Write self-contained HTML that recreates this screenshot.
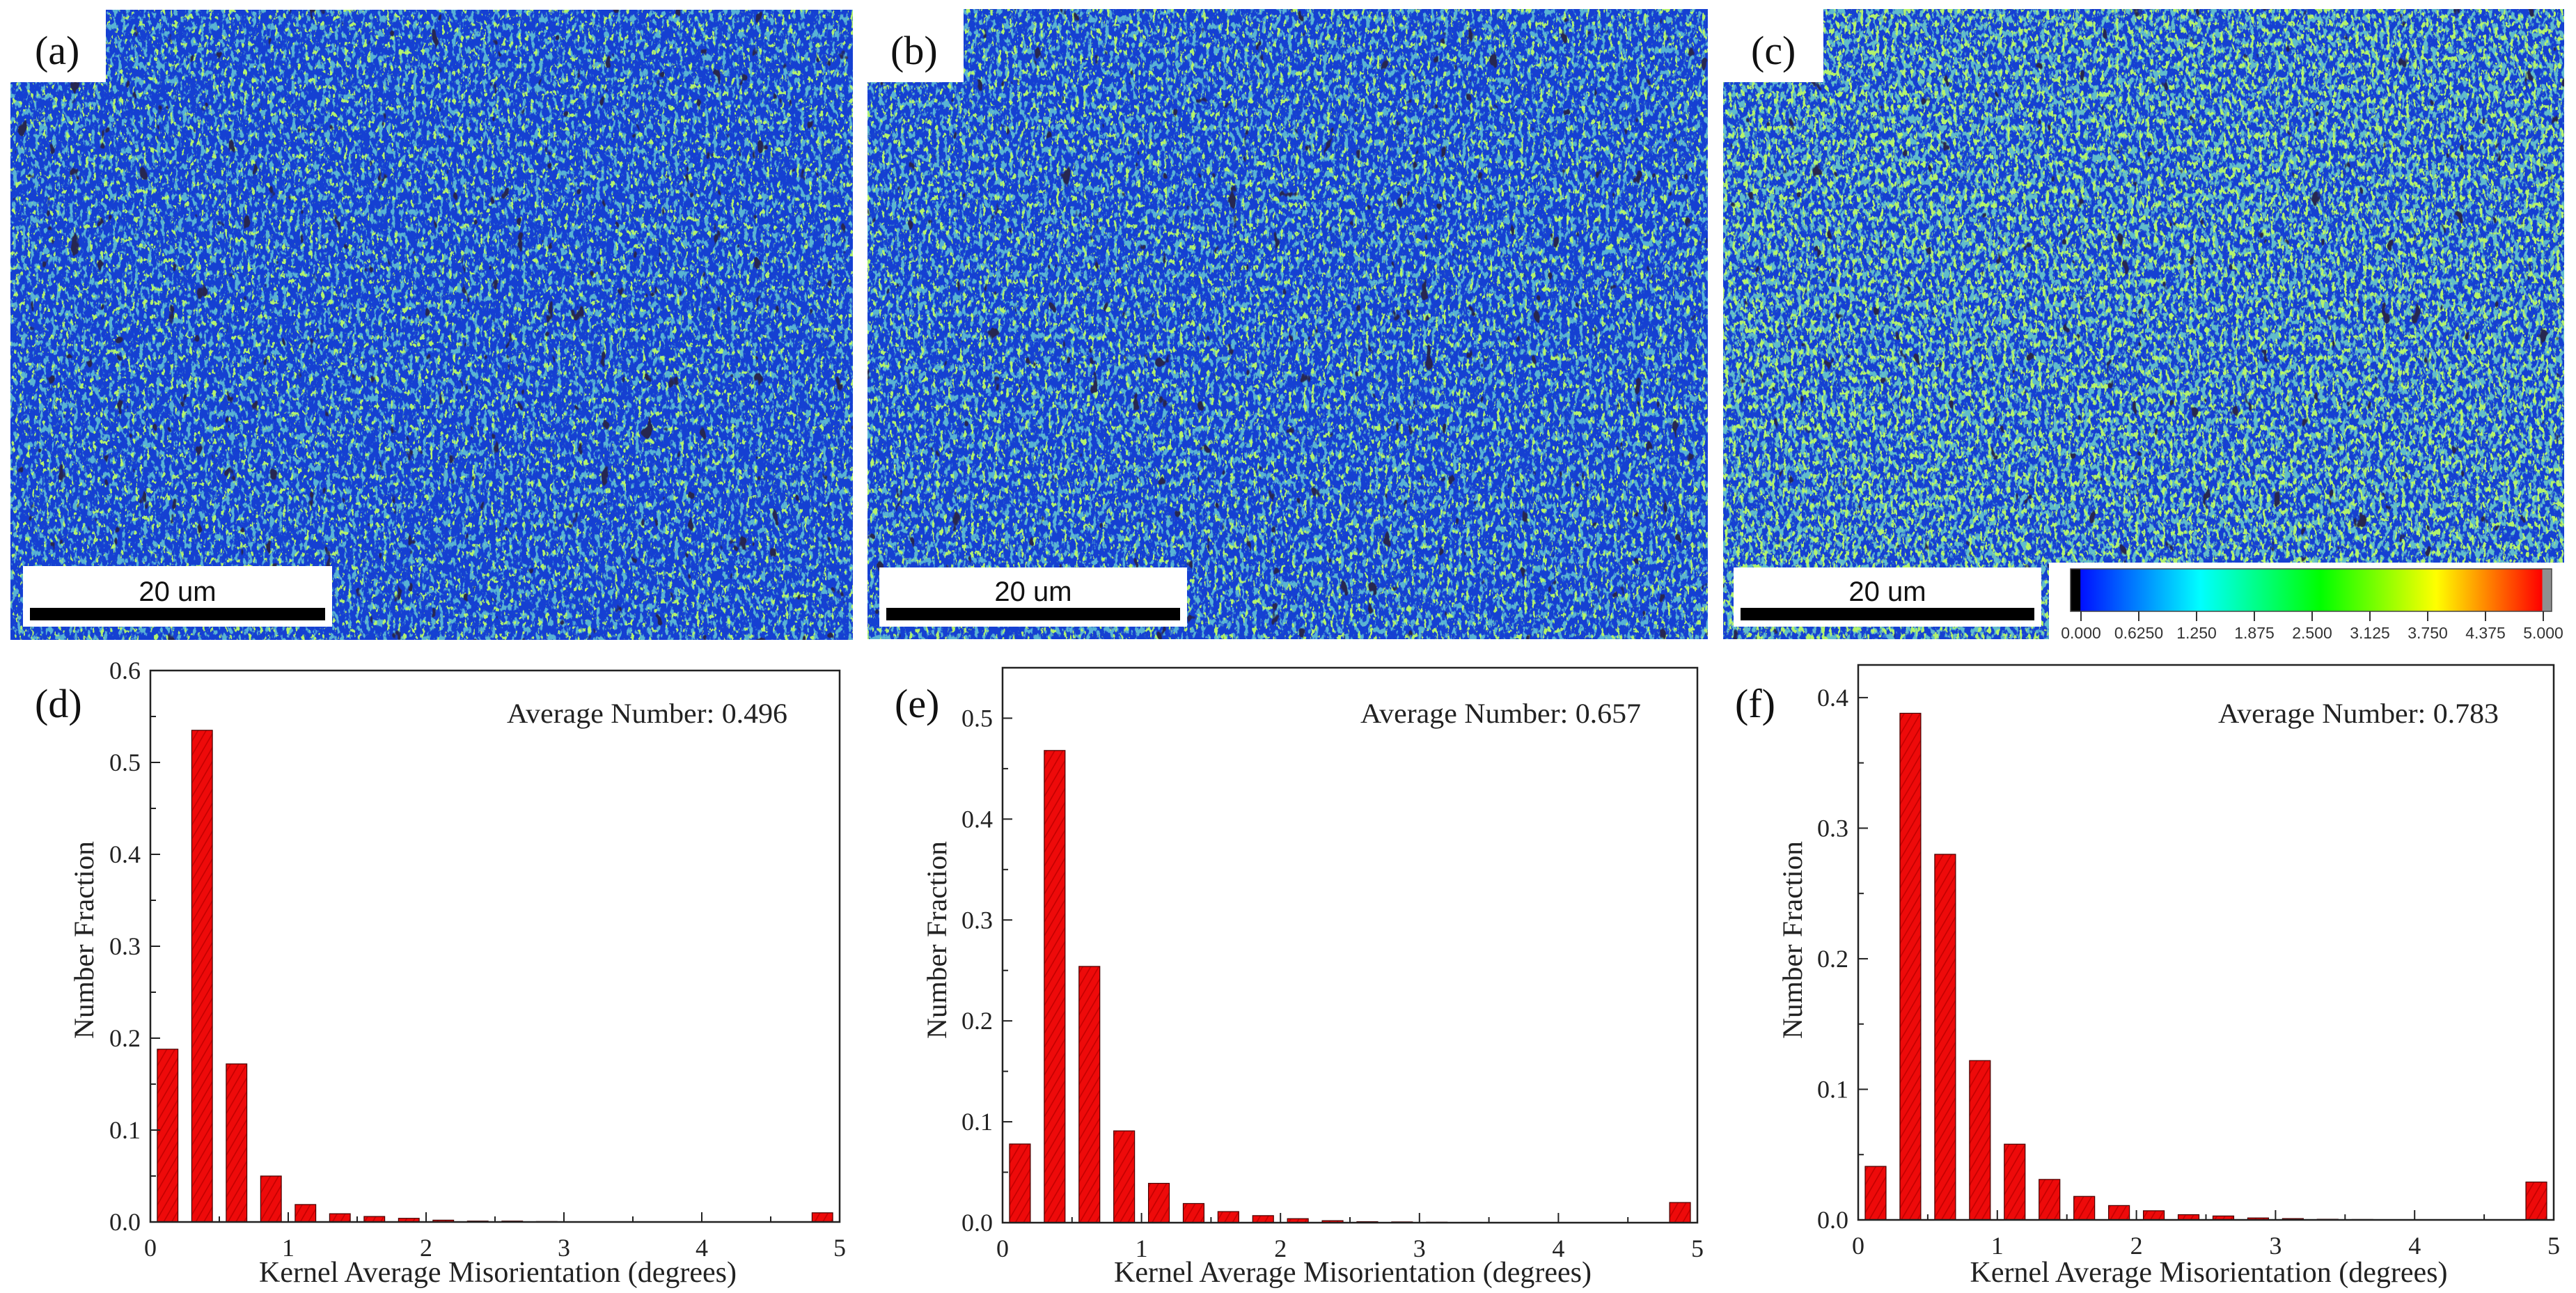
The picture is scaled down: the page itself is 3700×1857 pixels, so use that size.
<!DOCTYPE html>
<html><head><meta charset="utf-8"><style>
html,body{margin:0;padding:0;background:#fff;}
svg{display:block;}
</style></head>
<body>
<svg id="fig" width="3700" height="1857" viewBox="0 0 3700 1857" xmlns="http://www.w3.org/2000/svg">
<defs>
  <pattern id="hatch" patternUnits="userSpaceOnUse" width="10" height="10" patternTransform="rotate(30)">
    <rect width="10" height="10" fill="#ee0a0a"/>
    <line x1="1" y1="0" x2="1" y2="10" stroke="#c00000" stroke-width="1.5"/>
  </pattern>
  <linearGradient id="cbar" x1="0" x2="1" y1="0" y2="0">
    <stop offset="0" stop-color="#000"/><stop offset="0.02" stop-color="#000"/>
    <stop offset="0.021" stop-color="#0010ff"/>
    <stop offset="0.27" stop-color="#00ffff"/>
    <stop offset="0.52" stop-color="#00ff00"/>
    <stop offset="0.76" stop-color="#ffff00"/>
    <stop offset="0.98" stop-color="#ff0000"/>
    <stop offset="0.981" stop-color="#909090"/><stop offset="1" stop-color="#909090"/>
  </linearGradient>
  <filter id="tealA" x="0" y="0" width="1" height="1"><feTurbulence type="fractalNoise" baseFrequency="0.16 0.09" numOctaves="3" seed="3"/><feColorMatrix values="0 0 0 0 0.1  0 0 0 0 0.45  0 0 0 0 0.65  10 0 0 0 -5.4"/></filter>
  <filter id="greenA" x="0" y="0" width="1" height="1"><feTurbulence type="fractalNoise" baseFrequency="0.18 0.1" numOctaves="3" seed="11"/><feColorMatrix values="0 0 0 0 0.45  0 0 0 0 0.9  0 0 0 0 0.15  16 0 0 0 -10.2"/></filter>
  <filter id="blackA" x="0" y="0" width="1" height="1"><feTurbulence type="fractalNoise" baseFrequency="0.05 0.03" numOctaves="3" seed="41"/><feColorMatrix values="0 0 0 0 0.02  0 0 0 0 0.02  0 0 0 0 0.08  20 0 0 0 -14.9"/></filter>
  <filter id="tealB" x="0" y="0" width="1" height="1"><feTurbulence type="fractalNoise" baseFrequency="0.16 0.09" numOctaves="3" seed="5"/><feColorMatrix values="0 0 0 0 0.1  0 0 0 0 0.45  0 0 0 0 0.65  10 0 0 0 -5.3"/></filter>
  <filter id="greenB" x="0" y="0" width="1" height="1"><feTurbulence type="fractalNoise" baseFrequency="0.18 0.1" numOctaves="3" seed="17"/><feColorMatrix values="0 0 0 0 0.45  0 0 0 0 0.9  0 0 0 0 0.15  16 0 0 0 -9.9"/></filter>
  <filter id="blackB" x="0" y="0" width="1" height="1"><feTurbulence type="fractalNoise" baseFrequency="0.05 0.03" numOctaves="3" seed="43"/><feColorMatrix values="0 0 0 0 0.02  0 0 0 0 0.02  0 0 0 0 0.08  20 0 0 0 -14.9"/></filter>
  <filter id="tealC" x="0" y="0" width="1" height="1"><feTurbulence type="fractalNoise" baseFrequency="0.16 0.09" numOctaves="3" seed="7"/><feColorMatrix values="0 0 0 0 0.12  0 0 0 0 0.5  0 0 0 0 0.6  10 0 0 0 -5.0"/></filter>
  <filter id="greenC" x="0" y="0" width="1" height="1"><feTurbulence type="fractalNoise" baseFrequency="0.18 0.1" numOctaves="3" seed="23"/><feColorMatrix values="0 0 0 0 0.45  0 0 0 0 0.9  0 0 0 0 0.15  16 0 0 0 -9.4"/></filter>
  <filter id="blackC" x="0" y="0" width="1" height="1"><feTurbulence type="fractalNoise" baseFrequency="0.05 0.03" numOctaves="3" seed="47"/><feColorMatrix values="0 0 0 0 0.02  0 0 0 0 0.02  0 0 0 0 0.08  20 0 0 0 -15.0"/></filter>
</defs>
</svg>
<script>
// ---- chart data ----
const binCenters = [0.125,0.375,0.625,0.875,1.125,1.375,1.625,1.875,2.125,2.375,2.625,2.875,3.125,3.375,3.625,3.875,4.125,4.375,4.625,4.875];
const fracD = [0.188,0.535,0.172,0.050,0.019,0.009,0.006,0.004,0.002,0.001,0.001,0.0005,0,0,0,0,0,0,0,0.010];
const fracE = [0.078,0.468,0.254,0.091,0.039,0.019,0.011,0.007,0.004,0.002,0.001,0.0008,0.0005,0.0003,0,0,0,0,0,0.020];
const fracF = [0.041,0.388,0.280,0.122,0.058,0.031,0.018,0.011,0.007,0.004,0.003,0.0015,0.001,0.0005,0.0003,0,0,0,0,0.029];
const xTicks = [0,1,2,3,4,5];
const yTicksD = [0,0.1,0.2,0.3,0.4,0.5,0.6];
const yTicksE = [0,0.1,0.2,0.3,0.4,0.5];
const yTicksF = [0,0.1,0.2,0.3,0.4];
const avgD = "0.496", avgE = "0.657", avgF = "0.783";
const cbarLabels = ["0.000","0.6250","1.250","1.875","2.500","3.125","3.750","4.375","5.000"];

const NS = "http://www.w3.org/2000/svg";
const svg = document.getElementById('fig');
function mk(tag, attrs, parent){
  const e = document.createElementNS(NS, tag);
  for (const k in attrs) e.setAttribute(k, attrs[k]);
  (parent||svg).appendChild(e);
  return e;
}
const SERIF = '"Liberation Serif", "Times New Roman", serif';
const SANS = '"Liberation Sans", Arial, sans-serif';

// ---- KAM maps ----
const maps = [
  {id:'a', x:15, y:14, w:1210, h:905, lb:[0,0,152,118], lx:50, sb:[33,813,444,87], teal:'tealA', green:'greenA', black:'blackA'},
  {id:'b', x:1246, y:13, w:1207, h:905, lb:[1246,13,138,105], lx:1279, sb:[1263,815,442,85], teal:'tealB', green:'greenB', black:'blackB'},
  {id:'c', x:2475, y:13, w:1208, h:905, lb:[2475,13,144,105], lx:2515, sb:[2490,815,442,85], teal:'tealC', green:'greenC', black:'blackC'}
];
maps.forEach(m => {
  const g = mk('g', {});
  
  
  mk('rect', {x:m.x, y:m.y, width:m.w, height:m.h, fill:'#1540d2'}, g);
  mk('rect', {x:m.x, y:m.y, width:m.w, height:m.h, fill:'#fff', filter:'url(#'+m.teal+')'}, g);
  mk('rect', {x:m.x, y:m.y, width:m.w, height:m.h, fill:'#fff', filter:'url(#'+m.green+')'}, g);
  mk('rect', {x:m.x, y:m.y, width:m.w, height:m.h, fill:'#fff', filter:'url(#'+m.black+')'}, g);
  const lb = mk('rect', {x:m.lb[0], y:m.lb[1], width:m.lb[2], height:m.lb[3], fill:'#fff'}, g);
  
  
  const lt = mk('text', {x:m.lx, y:92, 'font-family':SERIF, 'font-size':58, fill:'#111'}, g);
  lt.textContent = '(' + m.id + ')';
  
  
  const sb = mk('g', {}, g);
  
  
  mk('rect', {x:m.sb[0], y:m.sb[1], width:m.sb[2], height:m.sb[3], fill:'#fff'}, sb);
  mk('rect', {x:m.sb[0]+10, y:873, width:m.sb[2]-20, height:18, fill:'#000'}, sb);
  const st = mk('text', {x:m.sb[0]+m.sb[2]/2, y:863, 'text-anchor':'middle', 'font-family':SANS, 'font-size':40, fill:'#111'}, sb);
  st.textContent = '20 um';
});

// ---- color bar ----
const cb = mk('g', {});


mk('rect', {x:2943, y:808, width:743, height:112, fill:'#fff'}, cb);
mk('rect', {x:2974, y:817, width:691, height:61, fill:'url(#cbar)', stroke:'#444', 'stroke-width':1.5}, cb);
cbarLabels.forEach((s,i) => {
  const x = 2989 + i*(3653-2989)/(cbarLabels.length-1);
  mk('line', {x1:x, y1:878, x2:x, y2:892, stroke:'#333', 'stroke-width':2}, cb);
  const t = mk('text', {x:x, y:917, 'text-anchor':'middle', 'font-family':SANS, 'font-size':23, fill:'#333'}, cb);
  t.textContent = s;
  
  
});

// ---- histograms ----
const charts = [
  {id:'d', l:216, r:1206, t:963, b:1755, ymax:0.6, yt:yTicksD, data:fracD, avg:avgD, lx:50, ylx:120, avgX:728},
  {id:'e', l:1440, r:2438, t:959, b:1756, ymax:0.55, yt:yTicksE, data:fracE, avg:avgE, lx:1285, ylx:1345, avgX:1954},
  {id:'f', l:2669, r:3668, t:955, b:1752, ymax:0.425, yt:yTicksF, data:fracF, avg:avgF, lx:2492, ylx:2574, avgX:3186}
];
charts.forEach(c => {
  const X = v => c.l + (v/5)*(c.r-c.l);
  const Y = v => c.b - (v/c.ymax)*(c.b-c.t);
  const g = mk('g', {});
  
  
  const bw = X(0.15) - X(0);
  c.data.forEach((v,i) => {
    if (v <= 0) return;
    const y0 = Y(v);
    const bar = mk('rect', {x:X(binCenters[i])-bw/2, y:y0, width:bw, height:c.b-y0, fill:'url(#hatch)', stroke:'#400', 'stroke-width':1.2}, g);
    
    
  });
  const fr = mk('rect', {x:c.l, y:c.t, width:c.r-c.l, height:c.b-c.t, fill:'none', stroke:'#222', 'stroke-width':2.5}, g);
  
  
  for (let k=0; k<=10; k++){
    const v = k*0.5, x = X(v);
    mk('line', {x1:x, y1:c.b, x2:x, y2:c.b-(k%2===0?14:8), stroke:'#222', 'stroke-width':2}, g);
  }
  xTicks.forEach(v => {
    const t = mk('text', {x:X(v), y:c.b+49, 'text-anchor':'middle', 'font-family':SERIF, 'font-size':36, fill:'#222'}, g);
    t.textContent = String(v);
    
    
  });
  for (let v=0; v<=c.ymax+1e-9; v+=0.05){
    const y = Y(v), major = Math.abs(Math.round(v*20)%2)===0;
    mk('line', {x1:c.l, y1:y, x2:c.l+(major?14:8), y2:y, stroke:'#222', 'stroke-width':2}, g);
  }
  c.yt.forEach(v => {
    const t = mk('text', {x:c.l-14, y:Y(v)+12, 'text-anchor':'end', 'font-family':SERIF, 'font-size':36, fill:'#222'}, g);
    t.textContent = v.toFixed(1);
    
    
  });
  const xt = mk('text', {x:(c.l+c.r)/2+4, y:1841, 'text-anchor':'middle', 'font-family':SERIF, 'font-size':42, fill:'#222', textLength:686, lengthAdjust:'spacingAndGlyphs'}, g);
  xt.textContent = 'Kernel Average Misorientation (degrees)';
  
  
  const yt = mk('text', {x:0, y:0, 'text-anchor':'middle', 'font-family':SERIF, 'font-size':40, fill:'#222', transform:'translate('+(c.ylx+14)+',1350) rotate(-90)', textLength:284, lengthAdjust:'spacingAndGlyphs'}, g);
  yt.textContent = 'Number Fraction';
  
  
  const pl = mk('text', {x:c.lx, y:1030, 'font-family':SERIF, 'font-size':58, fill:'#111'}, g);
  pl.textContent = '(' + c.id + ')';
  
  
  const av = mk('text', {x:c.avgX, y:1038, 'font-family':SERIF, 'font-size':40, fill:'#222', textLength:403, lengthAdjust:'spacingAndGlyphs'}, g);
  av.textContent = 'Average Number: ' + c.avg;
  
  
});
</script>
</body></html>
